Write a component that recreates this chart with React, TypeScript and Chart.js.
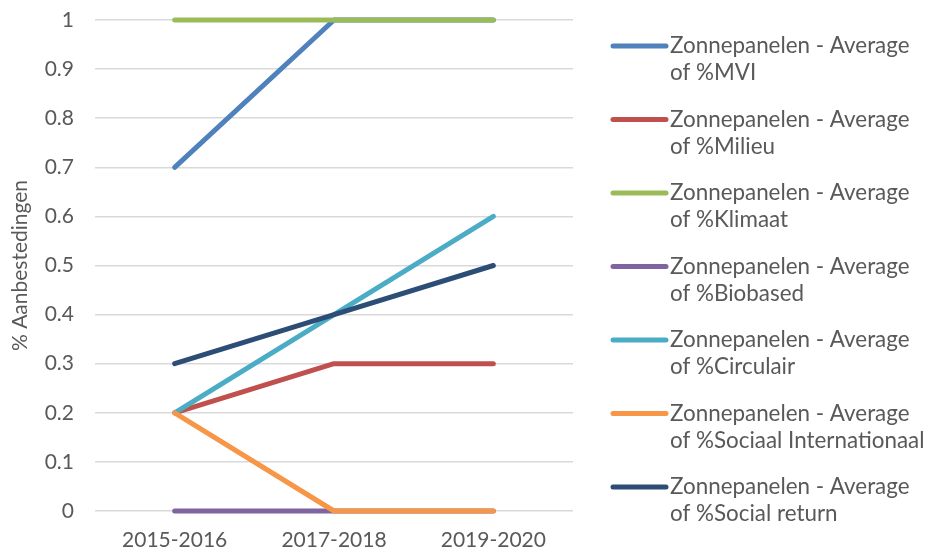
import React, { useEffect, useRef } from "react";
import { Chart, registerables } from "chart.js";

Chart.register(...registerables);

const categories = ["2015-2016", "2017-2018", "2019-2020"];
const seriesNames = [
  "Zonnepanelen - Average of %MVI",
  "Zonnepanelen - Average of %Milieu",
  "Zonnepanelen - Average of %Klimaat",
  "Zonnepanelen - Average of %Biobased",
  "Zonnepanelen - Average of %Circulair",
  "Zonnepanelen - Average of %Sociaal Internationaal",
  "Zonnepanelen - Average of %Social return",
];
const mvi = [0.7, 1, 1];
const milieu = [0.2, 0.3, 0.3];
const klimaat = [1, 1, 1];
const biobased = [0, 0, 0];
const circulair = [0.2, 0.4, 0.6];
const sociaalInternationaal = [0.2, 0, 0];
const socialReturn = [0.3, 0.4, 0.5];
const seriesValues = [mvi, milieu, klimaat, biobased, circulair, sociaalInternationaal, socialReturn];
const seriesColors = ["#4F81BD", "#C0504D", "#9BBB59", "#8064A2", "#4BACC6", "#F79646", "#2C4D75"];
const yTicks = [0, 0.1, 0.2, 0.3, 0.4, 0.5, 0.6, 0.7, 0.8, 0.9, 1];
const yTitle = "% Aanbestedingen";

const FONT = "Lato, 'Noto Sans', sans-serif";
const TEXT = "#595959";

const sideLegend = {
  id: "sideLegend",
  afterDraw(chart: any) {
    const ctx = chart.ctx as CanvasRenderingContext2D;
    const x0 = 613;
    const x1 = 666;
    const tx = 670;
    const top = 46;
    const step = 73.5;
    const lineGap = 27;
    ctx.save();
    ctx.font = `22.4px ${FONT}`;
    ctx.textBaseline = "middle";
    ctx.textAlign = "left";
    chart.data.datasets.forEach((ds: any, i: number) => {
      const y = top + i * step;
      ctx.strokeStyle = ds.borderColor;
      ctx.lineWidth = 5;
      ctx.lineCap = "round";
      ctx.beginPath();
      ctx.moveTo(x0, y);
      ctx.lineTo(x1, y);
      ctx.stroke();
      const name: string = ds.label;
      const split = name.indexOf(" of ");
      ctx.fillStyle = TEXT;
      ctx.fillText(name.slice(0, split), tx, y);
      ctx.fillText(name.slice(split + 1), tx, y + lineGap);
    });
    ctx.restore();
  },
};

export default function App() {
  const ref = useRef<HTMLCanvasElement | null>(null);
  useEffect(() => {
    document.body.style.margin = "0";
    const ctx = ref.current!;
    const chart = new Chart(ctx, {
      type: "line",
      data: {
        labels: categories,
        datasets: seriesValues.map((vals, i) => ({
          label: seriesNames[i],
          data: vals,
          borderColor: seriesColors[i],
          backgroundColor: seriesColors[i],
          borderWidth: 5,
          borderCapStyle: "round",
          borderJoinStyle: "round",
          pointRadius: 0,
          pointHoverRadius: 0,
          tension: 0,
          fill: false,
          clip: false,
          order: -i,
        })),
      },
      plugins: [sideLegend],
      options: {
        responsive: false,
        animation: false,
        maintainAspectRatio: false,
        layout: { padding: { top: 20, left: 8, right: 355, bottom: 0 } },
        plugins: {
          tooltip: { enabled: false },
          legend: { display: false },
        },
        scales: {
          x: {
            type: "category",
            offset: true,
            grid: { display: false, drawTicks: false },
            border: { display: false },
            ticks: { font: { family: FONT, size: 21 }, color: TEXT, padding: 17 },
            afterFit: (axis: any) => {
              axis.height = 41;
              axis.paddingLeft = 0;
              axis.paddingRight = 0;
            },
          },
          y: {
            min: 0,
            max: 1,
            afterBuildTicks: (axis: any) => {
              axis.ticks = yTicks.map((v) => ({ value: v }));
            },
            afterFit: (axis: any) => {
              axis.width = 87;
              axis.paddingTop = 0;
              axis.paddingBottom = 0;
            },
            grid: { color: "#D9D9D9", lineWidth: 1.5, drawTicks: false },
            border: { display: false },
            ticks: {
              font: { family: FONT, size: 21 },
              color: TEXT,
              padding: 21,
              callback: (v: any) => String(Math.round(Number(v) * 10) / 10),
            },
            title: {
              display: true,
              text: yTitle,
              font: { family: FONT, size: 21 },
              color: TEXT,
              padding: { top: 0, bottom: 0 },
            },
          },
        },
      },
    });
    return () => chart.destroy();
  }, []);
  return (
    <div style={{ width: 928, height: 552 }}>
      <canvas ref={ref} width={928} height={552} style={{ display: "block" }} />
    </div>
  );
}
